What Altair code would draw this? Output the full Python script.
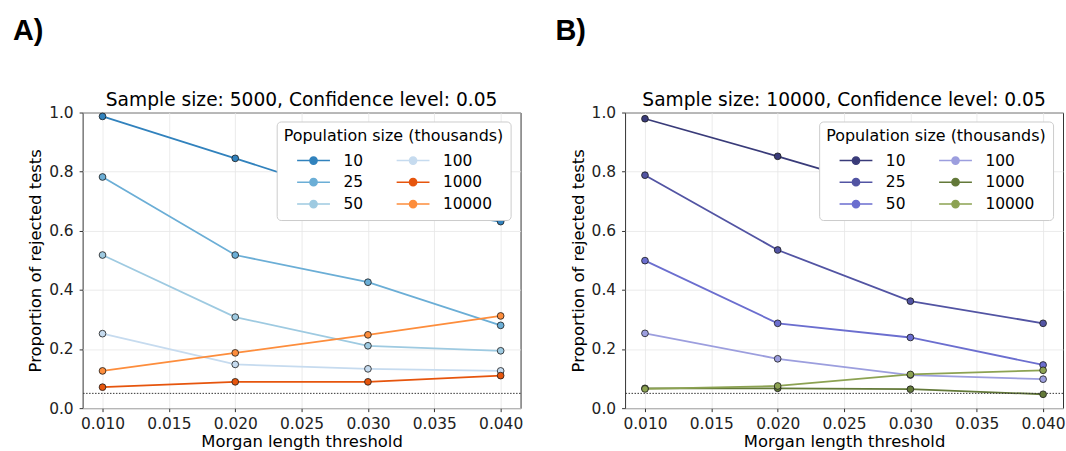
import altair as alt
import pandas as pd

thresholds = [0.010, 0.020, 0.030, 0.040]
pop_sizes = ["10", "25", "50", "100", "1000", "10000"]

# Panel A: sample size 5000
a_10 = [0.987, 0.845, 0.700, 0.631]
a_25 = [0.782, 0.518, 0.426, 0.280]
a_50 = [0.518, 0.308, 0.211, 0.194]
a_100 = [0.252, 0.148, 0.133, 0.126]
a_1000 = [0.071, 0.089, 0.089, 0.110]
a_10000 = [0.126, 0.187, 0.248, 0.312]

# Panel B: sample size 10000
b_10 = [0.979, 0.852, 0.720, 0.660]
b_25 = [0.788, 0.535, 0.362, 0.287]
b_50 = [0.499, 0.287, 0.239, 0.146]
b_100 = [0.253, 0.167, 0.112, 0.098]
b_1000 = [0.067, 0.067, 0.064, 0.047]
b_10000 = [0.065, 0.075, 0.114, 0.128]

colors_a = ["#3182bd", "#6baed6", "#9ecae1", "#c6dbef", "#e6550d", "#fd8d3c"]
colors_b = ["#393b79", "#5254a3", "#6b6ecf", "#9c9ede", "#637939", "#8ca252"]

x_ticks = [0.010, 0.015, 0.020, 0.025, 0.030, 0.035, 0.040]
y_ticks = [0.0, 0.2, 0.4, 0.6, 0.8, 1.0]
alpha_level = 0.05

FONT = "DejaVu Sans"
SYMBOL = "M-2,0L2,0M-0.44,0A0.44,0.44,0,1,1,0.44,0A0.44,0.44,0,1,1,-0.44,0Z"

AXIS_COMMON = dict(
    labelFont=FONT, labelFontSize=15.5, labelColor="#222222", titleFont=FONT,
    titleFontSize=16.5, titleFontWeight="normal", titleColor="#000000",
    gridColor="#e6e6e6", gridWidth=0.8, tickColor="#333333", tickSize=3.5,
    domain=False,
)


def make_df(series):
    rows = []
    for name, vals in zip(pop_sizes, series):
        for t, v in zip(thresholds, vals):
            rows.append({"threshold": t, "prop": v, "pop": name})
    return pd.DataFrame(rows)


def panel(series, colors, title, letter):
    df = make_df(series)
    dom = pop_sizes
    rng = colors
    xs = alt.X("threshold:Q", scale=alt.Scale(domain=[0.0085, 0.0415], nice=False, zero=False),
               axis=alt.Axis(values=x_ticks, format=".3f", title="Morgan length threshold",
                             labelPadding=4.5, titlePadding=2, **AXIS_COMMON))
    ys = alt.Y("prop:Q", scale=alt.Scale(domain=[0, 1], nice=False),
               axis=alt.Axis(values=y_ticks, format=".1f", title="Proportion of rejected tests",
                             labelPadding=6, titlePadding=5, **AXIS_COMMON))
    color = alt.Color("pop:N", sort=dom, scale=alt.Scale(domain=dom, range=rng),
                      legend=alt.Legend(
                          title="Population size (thousands)", orient="none",
                          legendX=195, legendY=9, columns=2, direction="vertical",
                          symbolType=SYMBOL, symbolSize=272, symbolStrokeWidth=1.5,
                          fillColor="white", strokeColor="#cccccc", cornerRadius=4,
                          padding=7, titleFont=FONT, titleFontSize=16, titleFontWeight="normal",
                          titleColor="#000000", titleLimit=400, labelFont=FONT, labelFontSize=15.5,
                          labelColor="#000000", symbolOffset=21, labelOffset=21,
                          rowPadding=4, columnPadding=20, titlePadding=7))
    lines = alt.Chart(df).mark_line(strokeWidth=1.8).encode(
        x=xs, y=ys, color=color, detail="pop:N")
    pts = alt.Chart(df).mark_point(filled=True, size=46, stroke="#1a1a1a", strokeWidth=0.8,
                                   opacity=1).encode(
        x="threshold:Q", y="prop:Q", fill=alt.Fill("pop:N", sort=dom,
                                                   scale=alt.Scale(domain=dom, range=rng),
                                                   legend=None))
    rule = alt.Chart(pd.DataFrame({"a": [alpha_level]})).mark_rule(
        color="#333333", strokeDash=[1.5, 1.5], strokeWidth=1).encode(y="a:Q")
    lab = alt.Chart(pd.DataFrame({"t": [letter]})).mark_text(
        font="Liberation Sans", fontSize=29, fontWeight="bold", align="left",
        baseline="middle", clip=False, color="#000000").encode(
        text="t:N", x=alt.value(-70), y=alt.value(-82))
    ttl = alt.Chart(pd.DataFrame({"t": [title]})).mark_text(
        font=FONT, fontSize=18.7, align="center", baseline="alphabetic",
        color="#000000").encode(text="t:N", x=alt.value(220), y=alt.value(-7))
    return alt.layer(lines, rule, pts, lab, ttl).properties(width=440, height=297)


chart = alt.hconcat(
    panel([a_10, a_25, a_50, a_100, a_1000, a_10000], colors_a,
          "Sample size: 5000, Confidence level: 0.05", "A)"),
    panel([b_10, b_25, b_50, b_100, b_1000, b_10000], colors_b,
          "Sample size: 10000, Confidence level: 0.05", "B)"),
    spacing=31,
).resolve_scale(color="independent", fill="independent").configure(
    padding={"left": 12, "top": 15, "right": 0, "bottom": 0},
    background="white",
).configure_view(stroke="#333333", strokeWidth=1)

chart.save("out.html", embed_options={"renderer": "svg", "actions": False})
